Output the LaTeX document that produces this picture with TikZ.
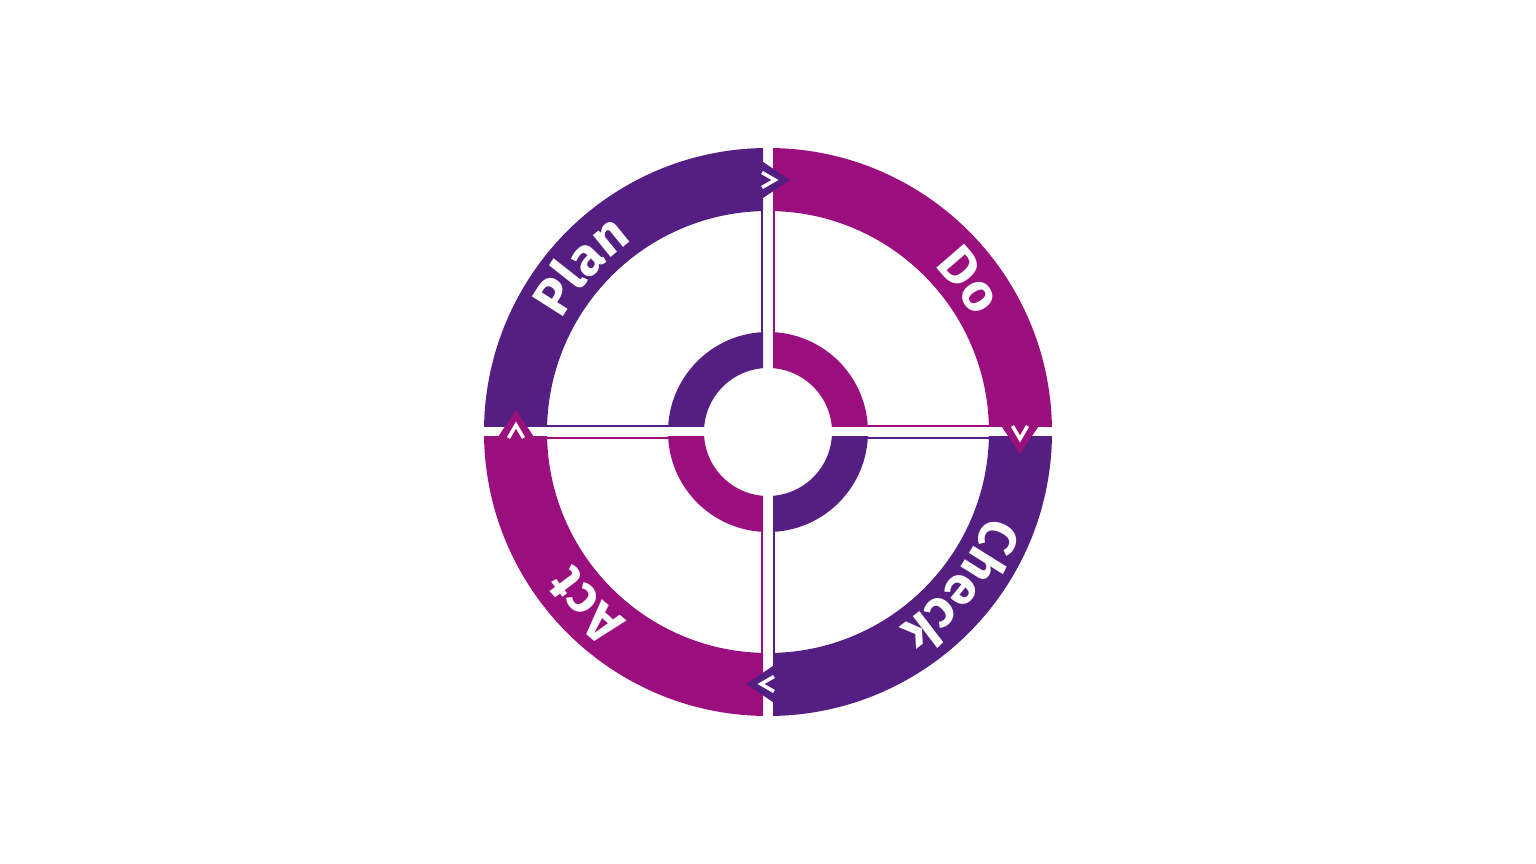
\documentclass[tikz,border=0pt]{standalone}
\usepackage{fontspec}
\newfontfamily\pdcafont{Fira Sans}
\usepackage{xcolor}
\usetikzlibrary{decorations.text}
\definecolor{pdcapurple}{RGB}{85,30,130}
\definecolor{pdcamagenta}{RGB}{155,14,125}
\newcommand{\pdcastyle}{\pdcafont\bfseries\fontsize{53}{63}\selectfont}
\newcommand{\ringword}[2]% middle angle, word
{[decorate,decoration={text along path,text align=center,text color=white,
text={|\pdcastyle|#2}}] (#1+40:235) arc (#1+40:#1-40:235)
}

\begin{document}
\begin{tikzpicture}[x=1pt,y=1pt]
\tikzstyle{chevron}=[white,line width=3.5pt,line join=miter]
\useasboundingbox (-768,-432) rectangle (768,432);

% four quadrants: outer band, inner ring and the two thin strips
\foreach \sx/\sy/\col in {-1/1/pdcapurple,1/1/pdcamagenta,1/-1/pdcapurple,-1/-1/pdcamagenta}{
\begin{scope}[xscale=\sx,yscale=\sy]
\clip (5,5) rectangle (300,300);
\fill[\col] (0:284) arc (0:90:284) -- (90:221) arc (90:0:221) -- cycle; % band
\fill[\col] (0:100) arc (0:90:100) -- (90:64) arc (90:0:64) -- cycle; % ring
\fill[\col] (5,90) rectangle (7,230); % strip
\fill[\col] (90,5) rectangle (230,7); % strip
\end{scope}
}

% arrow heads between the bands
\foreach \k/\col in {0/pdcapurple,1/pdcamagenta,2/pdcapurple,3/pdcamagenta}{
\begin{scope}[shift={({90-90*\k}:252)},rotate={-90*\k}]
\fill[\col] (-5,18) -- (22,0) -- (-5,-18) -- cycle;
\draw[chevron] (-6,7.5) -- (7,0) -- (-6,-7.5);
\end{scope}
}

% words along the bands
{\pdcastyle
\path \ringword{138.4}{Plan};
\path \ringword{37}{Do};
\path \ringword{-38.5}{Check};
\path \ringword{-136.3}{Act};
}
\end{tikzpicture}
\end{document}
